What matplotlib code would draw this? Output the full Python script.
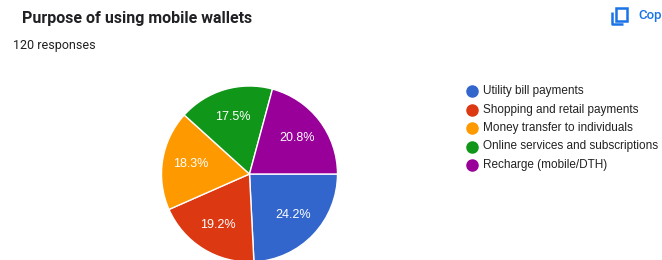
import matplotlib
matplotlib.use("Agg")
import matplotlib.pyplot as plt

title = "Purpose of using mobile wallets"
subtitle = "120 responses"
categories = ["Utility bill payments", "Shopping and retail payments",
              "Money transfer to individuals", "Online services and subscriptions",
              "Recharge (mobile/DTH)"]
values = [24.2, 19.2, 18.3, 17.5, 20.8]
colors = ["#3366cc", "#dc3912", "#ff9900", "#109618", "#990099"]

W, H = 662, 260
fig = plt.figure(figsize=(W / 100, H / 100), dpi=100)
fig.patch.set_facecolor("white")

# pie axes in pixel terms
cx, cy, r = 249.5, 174, 88
ax = fig.add_axes([(cx - r) / W, (H - (cy + r)) / H, 2 * r / W, 2 * r / H])
wedges, texts, autotexts = ax.pie(
    values, colors=colors, startangle=0, counterclock=False,
    autopct=lambda p: f"{p:.1f}%", pctdistance=0.68,
    wedgeprops=dict(edgecolor="white", linewidth=1.0),
    textprops=dict(color="white", fontsize=9, family="Liberation Sans"))
ax.set_xlim(-1, 1)
ax.set_ylim(-1, 1)
ax.set_aspect("equal")
ax.axis("off")

# overlay in pixel coordinates
ov = fig.add_axes([0, 0, 1, 1], zorder=5)
ov.set_xlim(0, W)
ov.set_ylim(H, 0)
ov.axis("off")
ov.patch.set_alpha(0)

ov.text(22, 18, title, fontsize=11.5, fontweight="bold", family="Roboto",
        color="#202124", va="center", ha="left")
ov.text(13, 45, subtitle, fontsize=9, family="Roboto", color="#202124",
        va="center", ha="left")

# copy icon and button text
blue = "#1a73e8"
ov.add_patch(plt.Rectangle((616, 8), 11, 13, fill=False, edgecolor=blue, linewidth=1.8))
ov.plot([612, 612, 623], [12, 24, 24], color=blue, linewidth=1.8, solid_capstyle="butt")
ov.text(638, 15, "Cop", fontsize=9.5, fontweight="medium", family="Roboto", color=blue,
        va="center", ha="left")

leg_y0, leg_dy = 91, 18.5
for i, (lab, col) in enumerate(zip(categories, colors)):
    y = leg_y0 + i * leg_dy
    ov.plot([472], [y], marker="o", markersize=8, color=col, linestyle="none")
    ov.text(483, y, lab, fontsize=8.5, family="Liberation Sans", color="#222222",
            va="center", ha="left")

fig.savefig("out.png", dpi=100)
